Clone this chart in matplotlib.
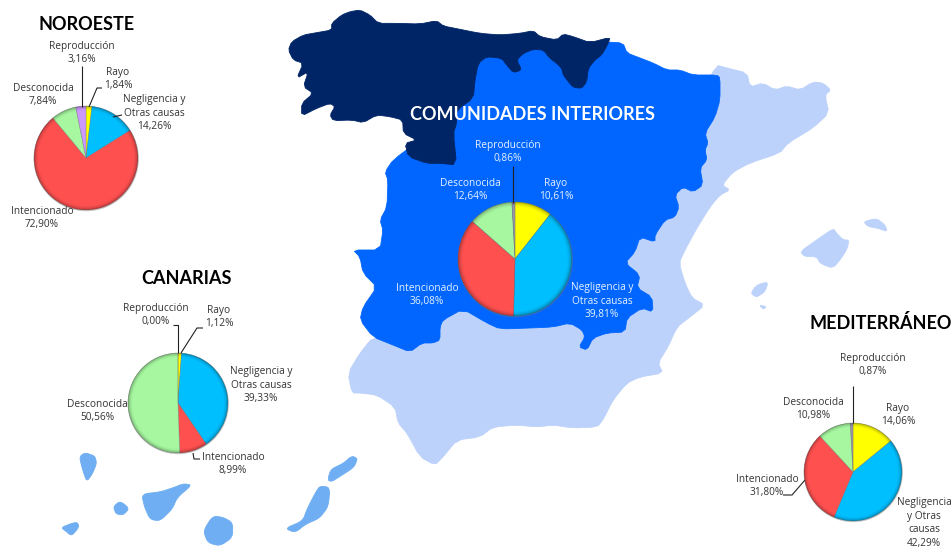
import numpy as np
import matplotlib
matplotlib.use("Agg")
import matplotlib.pyplot as plt
from matplotlib.patches import Polygon, Circle

W, H = 953, 551

causes = ["Rayo", "Negligencia y\nOtras causas", "Intencionado", "Desconocida", "Reproducción"]
colors = ["#FFFF00", "#00BFFF", "#FF5050", "#A6F7A0", "#CC99FF"]
colors_grey = ["#FFFF00", "#00BFFF", "#FF5050", "#A6F7A0", "#9A94A8"]

noroeste = [1.84, 14.26, 72.90, 7.84, 3.16]
interiores = [10.61, 39.81, 36.08, 12.64, 0.86]
canarias = [1.12, 39.33, 8.99, 50.56, 0.00]
mediterraneo = [14.06, 42.29, 31.80, 10.98, 0.87]

# map outlines in picture pixels
light = [(716, 65), (727, 68), (747, 73), (750, 87), (763, 83), (775, 90), (787, 86), (800, 90), (813, 82),
         (823, 83), (831, 90), (825, 95), (829, 113), (813, 128), (788, 143), (780, 153), (750, 163), (733, 172),
         (722, 185), (730, 190), (720, 195), (710, 207), (697, 228), (685, 250), (679, 263), (685, 283), (692, 298),
         (705, 305), (690, 317), (677, 327), (668, 347), (658, 363), (663, 373), (640, 377), (627, 383), (613, 400),
         (603, 420), (597, 427), (573, 428), (553, 425), (537, 427), (517, 425), (493, 427), (480, 437), (457, 440),
         (443, 457), (435, 465), (420, 457), (407, 433), (398, 423), (395, 407), (377, 395), (360, 393), (352, 393),
         (348, 373), (360, 353), (373, 337), (500, 300), (640, 200), (700, 100)]
bright = [(606, 42), (623, 43), (627, 53), (640, 58), (653, 63), (667, 70), (680, 70), (693, 75), (717, 75),
          (720, 78), (720, 100), (715, 117), (705, 133), (708, 143), (705, 150), (707, 160), (700, 168), (703, 185),
          (693, 192), (683, 187), (675, 195), (679, 207), (675, 217), (665, 220), (655, 235), (655, 242), (640, 237),
          (635, 252), (625, 263), (640, 275), (637, 288), (652, 297), (653, 312), (642, 308), (627, 318), (625, 332),
          (607, 333), (593, 338), (587, 350), (579, 347), (585, 337), (582, 330), (570, 323), (553, 327), (530, 328),
          (500, 329), (487, 323), (463, 309), (443, 320), (440, 327), (440, 340), (433, 343), (422, 343), (410, 352),
          (393, 345), (373, 337), (360, 320), (363, 307), (377, 287), (363, 273), (360, 257), (353, 250), (380, 250),
          (383, 230), (380, 220), (387, 207), (388, 180), (385, 172), (393, 160), (420, 140), (450, 90), (480, 60), (520, 42)]
dark = [(25, 150), (35, 125), (70, 105), (110, 98), (155, 90), (155, 70), (185, 45), (210, 35), (240, 30), (270, 45),
        (295, 70), (350, 70), (420, 72), (470, 62), (490, 78), (540, 88), (600, 100), (660, 105), (720, 100), (760, 92),
        (780, 110), (830, 120), (850, 102), (880, 110), (930, 128), (990, 112), (985, 130), (965, 165), (945, 180),
        (925, 205), (920, 245), (905, 265), (880, 262), (865, 245), (850, 225), (845, 205), (830, 190), (810, 175),
        (790, 150), (760, 148), (730, 160), (710, 180), (725, 210), (700, 218), (680, 195), (665, 175), (620, 170),
        (595, 190), (585, 240), (580, 295), (530, 330), (530, 370), (520, 400), (530, 495), (480, 490), (440, 490),
        (385, 470), (375, 430), (410, 420), (370, 400), (368, 360), (330, 350), (290, 345), (250, 368), (215, 360),
        (160, 362), (150, 345), (165, 320), (150, 310), (110, 325), (65, 348), (65, 310), (100, 280), (70, 260),
        (85, 215), (50, 235), (70, 190), (40, 180)]
dark = [(280 + x / 3, y / 3) for x, y in dark]

balears = [[(480, 605), (530, 570), (580, 535), (590, 550), (610, 570), (628, 570), (620, 600), (600, 630), (578, 655),
            (540, 640), (530, 620), (495, 620)],
           [(670, 515), (710, 505), (735, 525), (742, 545), (715, 535), (685, 530)],
           [(332, 730), (350, 705), (385, 695), (375, 725), (350, 742)],
           [(358, 765), (380, 770), (370, 778)]]
islas = [[(58, 500), (75, 488), (105, 498), (110, 520), (97, 552), (80, 575), (68, 540)],
         [(160, 650), (180, 633), (208, 655), (190, 675), (168, 672)],
         [(3, 712), (50, 695), (58, 710), (35, 738), (18, 724)],
         [(245, 612), (300, 606), (340, 593), (370, 581), (396, 585), (352, 622), (337, 657), (300, 693), (270, 688), (253, 650)],
         [(430, 722), (458, 678), (490, 682), (518, 698), (518, 742), (480, 768), (443, 758)],
         [(675, 715), (728, 693), (742, 655), (768, 605), (780, 588), (810, 592), (805, 650), (778, 685), (738, 702), (705, 728)],
         [(803, 570), (812, 538), (850, 520), (875, 498), (893, 505), (882, 532), (842, 558), (815, 575)]]


def smooth(pts, n=1):
    # corner cutting, the source map is a soft raster
    pts = np.array(pts, dtype=float)
    for _ in range(n):
        nxt = np.roll(pts, -1, axis=0)
        pts = np.column_stack([0.8 * pts + 0.2 * nxt, 0.2 * pts + 0.8 * nxt]).reshape(-1, 2)
    return pts


fig = plt.figure(figsize=(W / 100, H / 100), dpi=100, facecolor="white")
ax = fig.add_axes([0, 0, 1, 1], zorder=0)
ax.set_xlim(0, W)
ax.set_ylim(H, 0)
ax.axis("off")

ax.add_patch(Polygon(smooth(light), fc="#BDD2FA", ec="#BDD2FA", lw=0.6))
ax.add_patch(Polygon(smooth(bright), fc="#0066FF", ec="#0066FF", lw=0.6))
ax.add_patch(Polygon(smooth(dark), fc="#002566", ec="#002566", lw=0.6))
for p in balears:
    ax.add_patch(Polygon(smooth([(640 + x / 3, 50 + y / 3) for x, y in p], 2), fc="#BDD2FA", ec="#BDD2FA", lw=0.6))
for p in islas:
    ax.add_patch(Polygon(smooth([(60 + x / 3, 290 + y / 3) for x, y in p], 2), fc="#6FAEF2", ec="#6FAEF2", lw=0.6))

# radial shading so the pies look glossy like the excel ones
yy, xx = np.mgrid[-1:1:300j, -1:1:300j]
rr = np.sqrt(xx ** 2 + yy ** 2)
shade = np.zeros((300, 300, 4))
shade[..., 3] = np.clip((rr - 0.9) / 0.1, 0, 1) ** 2 * 0.3


def draw_pie(values, cx, cy, r, cols):
    m = 1.08
    a = fig.add_axes([(cx - r * m) / W, 1 - (cy + r * m) / H, 2 * r * m / W, 2 * r * m / H], zorder=1)
    a.add_patch(Circle((0.005, -0.012), 1.012, fc="#77777766", ec="none"))
    a.pie(values, colors=cols, startangle=90, counterclock=False, radius=1,
          wedgeprops={"edgecolor": "#66666666", "linewidth": 0.5})
    im = a.imshow(shade, extent=(-1, 1, -1, 1), zorder=5, interpolation="bilinear")
    im.set_clip_path(Circle((0, 0), 1, transform=a.transData))
    a.set_xlim(-m, m)
    a.set_ylim(-m, m)
    a.set_aspect("equal")
    a.axis("off")


draw_pie(noroeste, 86, 158, 52, colors)
draw_pie(interiores, 515, 259, 57, colors_grey)
draw_pie(canarias, 178, 403, 50, colors)
draw_pie(mediterraneo, 853, 472, 49, colors_grey)

top = fig.add_axes([0, 0, 1, 1], zorder=2)
top.set_xlim(0, W)
top.set_ylim(H, 0)
top.axis("off")
top.patch.set_alpha(0)

LABEL_FONT = "Open Sans"
TITLE_FONT = "Lato"


def pct(v):
    return f"{v:.2f}".replace(".", ",") + "%"


def put_labels(values, spots, color="#333333", names=causes):
    for name, v, (x, y) in zip(names, values, spots):
        top.text(x, y, name + "\n" + pct(v), ha="center", va="center", color=color,
                 fontsize=7.3, family=LABEL_FONT, linespacing=1.32)


put_labels(noroeste, [(118, 79), (154, 113), (42, 218), (43, 95), (82, 53)])
put_labels(interiores, [(556, 190), (602, 301), (427, 295), (470, 190), (508, 152)], color="#E8F3FF")
put_labels(canarias, [(219, 317), (261, 385), (233, 464), (97, 411), (156, 315)])
put_labels(mediterraneo, [(898, 415), (924, 523), (767, 486), (813, 409), (873, 365)],
           names=["Rayo", "Negligencia\ny Otras\ncausas", "Intencionado", "Desconocida", "Reproducción"])

leaders = [
    [(82, 66), (82, 107)],
    [(102, 88), (97, 88), (89, 107)],
    [(122, 115), (113, 117)],
    [(513, 166), (513, 203)],
    [(173, 325), (178, 325), (178, 353)],
    [(203, 328), (197, 328), (181, 353)],
    [(200, 459), (194, 459), (193, 453)],
    [(853, 386), (853, 423)],
    [(783, 495), (792, 495), (805, 480)],
]
for line in leaders:
    xs, ys = zip(*line)
    top.plot(xs, ys, color="#222222", lw=0.8, solid_capstyle="butt")

titles = [("NOROESTE", 87, 25, "black"), ("CANARIAS", 187, 278, "black"),
          ("COMUNIDADES INTERIORES", 533, 115, "white"), ("MEDITERRÁNEO", 881, 323, "black")]
for t, x, y, c in titles:
    top.text(x, y, t, ha="center", va="center", color=c, fontsize=13, fontweight="bold", family=TITLE_FONT)

fig.savefig("out.png", dpi=100)
